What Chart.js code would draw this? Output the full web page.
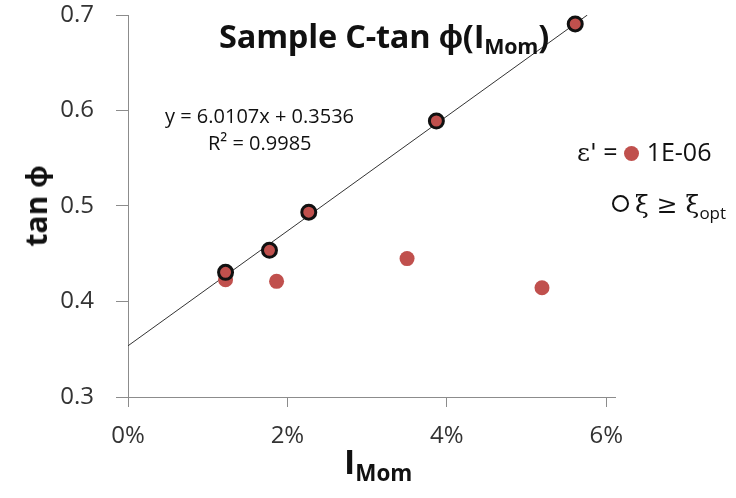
<!DOCTYPE html>
<html>
<head>
<meta charset="utf-8">
<script src="https://cdn.jsdelivr.net/npm/chart.js@4"></script>
<style>
  body { margin: 0; background: #fff; }
  #wrap { position: relative; width: 736px; height: 498px; font-family: 'Open Sans', sans-serif; color: #111; }
  #wrap canvas { position: absolute; left: 0; top: 0; }
  .lbl { position: absolute; white-space: nowrap; line-height: 1; }
  .title { left: 219px; top: 20px; font-size: 32.5px; font-weight: bold; letter-spacing: -0.2px; }
  .title sub, .xtitle sub { font-size: 0.66em; vertical-align: -0.3em; }
  .eq { font-size: 20px; }
  .ytitle { left: 36px; top: 206px; font-size: 30px; font-weight: bold; transform: translate(-50%, -50%) rotate(-90deg); }
  .xtitle { left: 344px; top: 444px; font-size: 34px; font-weight: bold; }
  .leg { font-size: 25px; }
  .serif { font-family: 'DejaVu Serif', 'Liberation Serif', serif; }
  .dot { display: inline-block; width: 15px; height: 15px; border-radius: 50%; background: #c0504d; vertical-align: 0px; margin: 0 8px 0 6px; }
  .ring { display: inline-block; width: 13px; height: 13px; border-radius: 50%; border: 2px solid #111; vertical-align: 1px; margin-right: 6px; }
  .leg sub { font-size: 0.68em; vertical-align: -0.35em; font-family: 'Open Sans', sans-serif; }
</style>
</head>
<body>
<div id="wrap">
  <canvas id="chart" width="736" height="498"></canvas>
  <div class="lbl title">Sample C-tan ϕ(I<sub>Mom</sub>)</div>
  <div class="lbl eq" style="left:165px; top:106px;">y = 6.0107x + 0.3536</div>
  <div class="lbl eq" style="left:208px; top:133px;">R² = 0.9985</div>
  <div class="lbl ytitle">tan ϕ</div>
  <div class="lbl xtitle">I<sub>Mom</sub></div>
  <div class="lbl leg" style="left:577px; top:139px;"><span class="serif">ε'</span> =<span class="dot"></span>1E-06</div>
  <div class="lbl leg" style="left:612px; top:191px;"><span class="ring"></span><span class="serif">ξ ≥ ξ</span><sub>opt</sub></div>
</div>
<script>
// tan phi against I_Mom, sample C
const epsX = [0.01224, 0.01775, 0.02268, 0.03869, 0.05611, 0.01224, 0.01864, 0.03501, 0.05194];
const epsY = [0.4305, 0.4536, 0.4935, 0.589, 0.6906, 0.4228, 0.4211, 0.4449, 0.4144];
const optX = [0.01224, 0.01775, 0.02268, 0.03869, 0.05611];
const optY = [0.4305, 0.4536, 0.4935, 0.589, 0.6906];

// linear fit shown on the chart
const slope = 6.0107;
const intercept = 0.3536;

const xTicks = [0, 0.02, 0.04, 0.06];
const yTicks = [0.3, 0.4, 0.5, 0.6, 0.7];

const toPoints = (xs, ys) => xs.map((x, i) => ({ x: x, y: ys[i] }));
const fitEnd = (yTicks[yTicks.length - 1] - intercept) / slope;

Chart.defaults.font.family = "'Open Sans', sans-serif";

const axisColor = '#8c8c8c';

new Chart(document.getElementById('chart'), {
  type: 'scatter',
  data: {
    datasets: [
      {
        label: 'xi >= xi_opt',
        data: toPoints(optX, optY),
        pointRadius: 7,
        pointBorderWidth: 3,
        pointBorderColor: '#111',
        pointBackgroundColor: 'rgba(0,0,0,0)',
        order: 1
      },
      {
        label: "eps' = 1E-06",
        data: toPoints(epsX, epsY),
        pointRadius: 7.5,
        pointBorderWidth: 0,
        pointBackgroundColor: '#c0504d',
        order: 2
      },
      {
        label: 'fit',
        type: 'line',
        data: [{ x: 0, y: intercept }, { x: fitEnd, y: slope * fitEnd + intercept }],
        borderColor: '#333',
        borderWidth: 1,
        pointRadius: 0,
        order: 3
      }
    ]
  },
  options: {
    responsive: false,
    animation: false,
    events: [],
    layout: { padding: { left: 0, right: 121, top: 15, bottom: 0 } },
    plugins: { legend: { display: false }, tooltip: { enabled: false } },
    scales: {
      x: {
        type: 'linear',
        min: 0,
        max: 0.0611,
        afterBuildTicks: s => { s.ticks = xTicks.map(v => ({ value: v })); },
        afterFit: s => { s.height = 101; s.paddingLeft = 0; s.paddingRight = 0; },
        border: { display: true, color: axisColor, width: 1 },
        grid: { drawOnChartArea: false, drawTicks: true, tickLength: 10, color: axisColor },
        ticks: {
          padding: 15,
          color: '#333',
          font: { size: 24 },
          maxRotation: 0,
          callback: v => Math.round(v * 100) + '%'
        }
      },
      y: {
        min: 0.3,
        max: 0.7,
        afterBuildTicks: s => { s.ticks = yTicks.map(v => ({ value: v })); },
        // label padding is horizontal only, keep it out of the top/bottom layout
        afterFit: s => { s.width = 128; s.paddingTop = 0; s.paddingBottom = 0; },
        border: { display: true, color: axisColor, width: 1 },
        grid: { drawOnChartArea: false, drawTicks: true, tickLength: 12, color: axisColor },
        ticks: {
          padding: 22,
          color: '#333',
          font: { size: 24 },
          callback: v => v.toFixed(1)
        }
      }
    }
  }
});
</script>
</body>
</html>
